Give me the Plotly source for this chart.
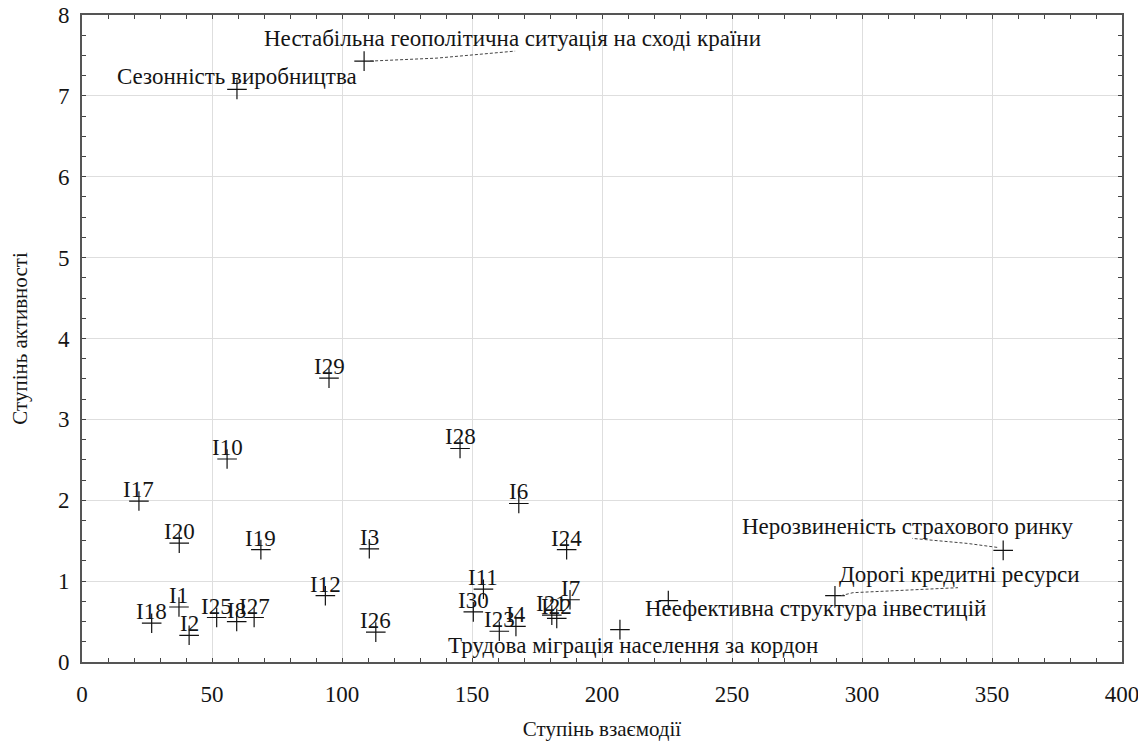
import plotly.graph_objects as go

# ---- data ----
short_labels = ["I1", "I2", "I3", "I4", "I6", "I7", "I8", "I10", "I11", "I12",
                "I17", "I18", "I19", "I20", "I21", "I22", "I23", "I24", "I25",
                "I26", "I27", "I28", "I29", "I30"]
short_x = [37.3, 41.2, 110.5, 166.9, 168.0, 187.7, 59.5, 55.8, 154.4, 93.6,
           21.9, 26.8, 68.8, 37.4, 180.7, 182.6, 160.5, 186.4, 51.8,
           113.0, 66.2, 145.4, 95.0, 150.5]
short_y = [0.68, 0.33, 1.40, 0.44, 1.96, 0.77, 0.50, 2.51, 0.90, 0.82,
           1.99, 0.48, 1.39, 1.47, 0.58, 0.54, 0.38, 1.39, 0.55,
           0.37, 0.55, 2.64, 3.51, 0.62]

named_labels = ["Нестабільна геополітична ситуація на сході країни",
                "Сезонність виробництва",
                "Нерозвиненість страхового ринку",
                "Дорогі кредитні ресурси",
                "Неефективна структура інвестицій",
                "Трудова міграція населення за кордон"]
named_x = [108.5, 59.6, 354.3, 289.6, 225.5, 206.9]
named_y = [7.43, 7.08, 1.38, 0.82, 0.76, 0.40]

x_title = "Ступінь взаємодії"
y_title = "Ступінь активності"

# ---- label placement (pixels): horizontal shift of text centre, baseline rise above marker ----
named_dx = [148, 0, -96, 125, 147, 13]
named_rise = [14, 4, 15, 13, -16, -24]
# dashed leader paths (pixels relative to marker; y up), None = no leader
named_leaders = ["M6,0 L73,3 L151,10", None, "M-6,3 L-36,7 L-91,12",
                 "M6,0 L18,3 L123,8", None, None]

FONT = "Liberation Serif, Times New Roman, Times, DejaVu Serif, serif"
TXT = "#151515"
FS = 23
DESC = 6  # descent + pad of annotation box

fig = go.Figure()
all_x = short_x + named_x
all_y = short_y + named_y
fig.add_trace(go.Scatter(
    x=all_x, y=all_y, mode="markers",
    marker=dict(symbol="cross-thin", size=14, line=dict(color="#111", width=1.2)),
    hoverinfo="skip", showlegend=False))

ann = []
for lab, x, y in zip(short_labels, short_x, short_y):
    ann.append(dict(x=x, y=y, xref="x", yref="y", text=lab, showarrow=False,
                    xanchor="center", yanchor="bottom", yshift=3 - DESC,
                    font=dict(family=FONT, size=FS, color=TXT)))
for lab, x, y, dx, r in zip(named_labels, named_x, named_y, named_dx, named_rise):
    ann.append(dict(x=x, y=y, xref="x", yref="y", text=lab, showarrow=False,
                    xanchor="center", yanchor="bottom", xshift=dx, yshift=r - DESC,
                    font=dict(family=FONT, size=FS, color=TXT)))

shapes = []
for x, y, p in zip(named_x, named_y, named_leaders):
    if p is None:
        continue
    shapes.append(dict(type="path", xref="x", yref="y", xsizemode="pixel", ysizemode="pixel",
                       xanchor=x, yanchor=y, path=p,
                       line=dict(color="#444", width=1, dash="3px,2px")))

axis_common = dict(
    showgrid=True, gridcolor="#dedede", gridwidth=1,
    showline=True, linecolor="#555", linewidth=2, mirror="ticks",
    ticks="inside", ticklen=4, tickcolor="#444", tickwidth=1,
    zeroline=False, automargin=False, ticklabeloverflow="allow",
    tickfont=dict(family=FONT, size=FS, color=TXT),
)

fig.update_xaxes(range=[0, 400], dtick=50, tick0=0,
                 minor=dict(dtick=10, ticks="inside", ticklen=4, tickcolor="#444", showgrid=False),
                 ticklabelstandoff=10,
                 title=dict(text=x_title, font=dict(family=FONT, size=21, color=TXT), standoff=20),
                 **axis_common)
fig.update_yaxes(range=[0, 8], dtick=1, tick0=0,
                 minor=dict(dtick=0.25, ticks="inside", ticklen=4, tickcolor="#444", showgrid=False),
                 ticklabelstandoff=6,
                 title=dict(text=y_title, font=dict(family=FONT, size=21, color=TXT), standoff=30),
                 **axis_common)

# page body has an 8px margin; size and margins compensate for it
fig.update_layout(
    width=1138, height=733,
    margin=dict(l=74, r=24, t=7, b=79),
    plot_bgcolor="white", paper_bgcolor="white",
    font=dict(family=FONT, color=TXT),
    annotations=ann, shapes=shapes,
    showlegend=False,
)

fig.write_html("out.html")
